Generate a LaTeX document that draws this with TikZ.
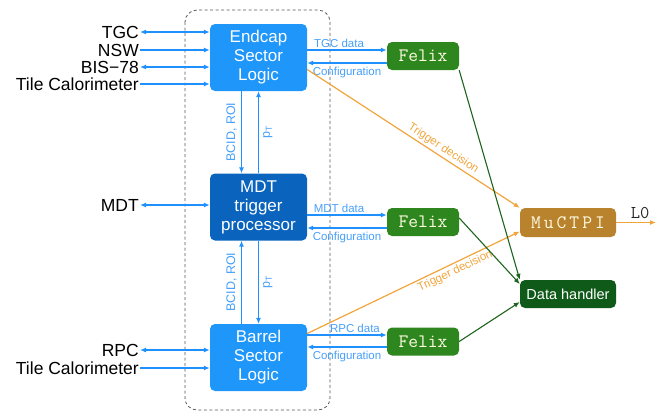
\documentclass[tikz,border=0pt]{standalone}
\usepackage{fontspec}
\setmainfont{Liberation Sans}
\usetikzlibrary{arrows.meta}
\definecolor{azulcaja}{RGB}{30,150,250}
\definecolor{azuloscuro}{RGB}{10,100,190}
\definecolor{azulflecha}{RGB}{30,144,255}
\definecolor{azultexto}{RGB}{70,160,250}
\definecolor{verdefelix}{RGB}{45,135,30}
\definecolor{verdeoscuro}{RGB}{15,90,25}
\definecolor{verdeflecha}{RGB}{30,100,30}
\definecolor{oro}{RGB}{185,130,45}
\definecolor{naranja}{RGB}{240,165,60}
\definecolor{crema}{RGB}{255,250,225}
\begin{document}
\begin{tikzpicture}[x=1pt,y=-1pt,
  logica/.style={rectangle, rounded corners=5pt, fill=azulcaja, text=white,
    minimum width=97pt, minimum height=67pt, align=center,
    font=\fontsize{17}{19}\selectfont},
  caja/.style={rectangle, rounded corners=5pt, text=crema, minimum width=72pt,
    minimum height=28pt, font=\ttfamily\fontsize{19}{19}\selectfont},
  entrada/.style={anchor=east, inner sep=1pt, font=\fontsize{17.5}{17.5}\selectfont},
  flecha/.style={draw=azulflecha, line width=1.4pt, -{Latex[length=6pt,width=5pt]}},
  dobleflecha/.style={flecha, {Latex[length=6pt,width=5pt]}-{Latex[length=6pt,width=5pt]}},
  etiq/.style={text=azultexto, font=\fontsize{11.5}{12}\selectfont, inner sep=2pt},
  etiqv/.style={etiq, font=\fontsize{12.5}{13}\selectfont, inner sep=4pt},
  naranjaflecha/.style={draw=naranja, line width=1.2pt, -{Latex[length=6pt,width=5pt]}},
  verdeflecha/.style={draw=verdeflecha, line width=1.1pt, -{Latex[length=6pt,width=5pt]}}]
\useasboundingbox (0,0) rectangle (672,416);
%
% marco punteado
\draw[black!65, line width=0.8pt, dash pattern=on 3pt off 2.5pt, rounded corners=12pt]
  (185,10) rectangle (330,410);
%
% bloques de logica
\node[logica] (1) at (258.5,57.5) {Endcap\\Sector\\Logic};
\node[logica, fill=azuloscuro] (2) at (258.5,207) {MDT\\trigger\\processor};
\node[logica] (3) at (258.5,357.5) {Barrel\\Sector\\Logic};
%
% felix, muctpi, data handler
\node[caja, fill=verdefelix] (4) at (423,56) {Felix};
\node[caja, fill=verdefelix] (5) at (423,222) {Felix};
\node[caja, fill=verdefelix] (6) at (423,341.5) {Felix};
\node[caja, fill=oro, minimum width=96pt, minimum height=29pt] (7) at (568,222.5)
  {M\kern3pt u\kern3pt C\kern3pt T\kern3pt P\kern3pt I};
\node[caja, fill=verdeoscuro, text=white, minimum width=96pt, font=\fontsize{14.5}{15}\selectfont]
  (8) at (568,294) {Data handler};
\coordinate (16) at (656,222.5);
%
% entradas
\node[entrada] (9) at (140,32) {TGC};
\node[entrada] (10) at (140,50) {NSW};
\node[entrada] (11) at (140,67) {BIS−78};
\node[entrada] (12) at (140,84) {Tile Calorimeter};
\node[entrada] (13) at (140,205) {MDT};
\node[entrada] (14) at (140,350) {RPC};
\node[entrada] (15) at (140,368) {Tile Calorimeter};
%
\draw[dobleflecha] (9.east) -- (9.east -| 1.west);
\draw[flecha] (10.east) -- (10.east -| 1.west);
\draw[dobleflecha] (11.east) -- (11.east -| 1.west);
\draw[flecha] (12.east) -- (12.east -| 1.west);
\draw[dobleflecha] (13.east) -- (13.east -| 2.west);
\draw[dobleflecha] (14.east) -- (14.east -| 3.west);
\draw[flecha] (15.east) -- (15.east -| 3.west);
%
% entre bloques
\draw[flecha] ([xshift=-17pt]1.south) -- node[midway, rotate=90, above, etiqv]
  {BCID, ROI} ([xshift=-17pt]2.north);
\draw[flecha] (2.north) -- node[midway, rotate=90, below, etiqv] {p\textsubscript{T}} (1.south);
\draw[flecha] ([xshift=-17pt]3.north) -- node[midway, rotate=90, above, etiqv]
  {BCID, ROI} ([xshift=-17pt]2.south);
\draw[flecha] (2.south) -- node[midway, rotate=90, below, etiqv] {p\textsubscript{T}} (3.north);
%
% datos y configuracion
\draw[flecha] ([yshift=6pt]4.west -| 1.east) -- node[etiq, above, pos=0.4] {TGC data} ([yshift=6pt]4.west);
\draw[flecha] ([yshift=-7pt]4.west) -- node[etiq, below, pos=0.5, yshift=-1pt] {Configuration} ([yshift=-7pt]4.west -| 1.east);
\draw[flecha] ([yshift=7pt]5.west -| 2.east) -- node[etiq, above, pos=0.4] {MDT data} ([yshift=7pt]5.west);
\draw[flecha] ([yshift=-6pt]5.west) -- node[etiq, below, pos=0.5, yshift=-1pt] {Configuration} ([yshift=-6pt]5.west -| 2.east);
\draw[flecha] ([yshift=6.5pt]6.west -| 3.east) -- node[etiq, above, pos=0.6] {RPC data} ([yshift=6.5pt]6.west);
\draw[flecha] ([yshift=-5.5pt]6.west) -- node[etiq, below, pos=0.5, yshift=-1pt] {Configuration} ([yshift=-5.5pt]6.west -| 3.east);
%
% trigger decision
\draw[naranjaflecha] ([yshift=-12pt]1.east) -- node[sloped, above, pos=0.62, etiq, text=naranja]
  {Trigger decision} (7.north west);
\draw[naranjaflecha] ([yshift=24pt]3.east) -- node[sloped, below, pos=0.68, etiq, text=naranja]
  {Trigger decision} ([yshift=-9pt]7.west);
\draw[naranjaflecha] (7.east) -- node[above, pos=0.6, text=black!85, font=\ttfamily\fontsize{18}{18}\selectfont]
  {L0} (16);
%
% hacia data handler
\draw[verdeflecha] (4.south east) -- (8.north west);
\draw[verdeflecha] ([yshift=4pt]5.east) -- ([yshift=10pt]8.west);
\draw[verdeflecha] (6.east) -- ([yshift=-8pt]8.west);
%
\end{tikzpicture}
\end{document}
